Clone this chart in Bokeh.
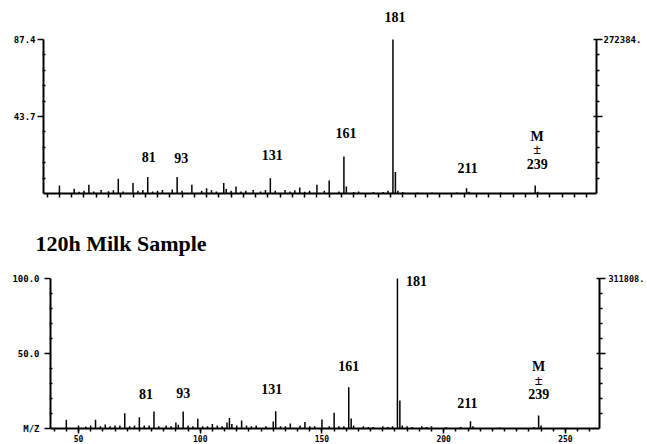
from bokeh.plotting import figure
from bokeh.models import (Range1d, FixedTicker, LinearAxis, Label, Title,
                          ColumnDataSource, CustomJSTickFormatter)
from bokeh.embed import file_html
from bokeh.resources import INLINE

# ---------------- data ----------------
MZ_RANGE = (38.5, 264.0)
X_TICKS = [50, 100, 150, 200, 250]
X_TICK_LABELS = ["50", "100", "150", "200", "250"]
X_MINOR_STEP = 5
X_AXIS_NAME = "M/Z"

# upper spectrum
top_mz = [45, 51, 53, 55, 57, 59, 62, 65, 67, 69, 71, 75, 77, 79, 81, 83, 85, 87,
          91, 93, 95, 99, 103, 105, 107, 109, 112, 113, 115, 117, 119, 121, 124,
          127, 129, 131, 133, 137, 139, 141, 143, 145, 147, 150, 153, 155, 159,
          161, 162, 165, 167, 173, 177, 179, 181, 182, 183, 185, 191, 197, 207,
          211, 212, 225, 239, 240]
top_abund = [4.6, 2.7, 1.0, 1.5, 5.0, 1.2, 2.0, 1.3, 1.8, 8.4, 1.2, 5.9, 1.5, 2.0,
             9.3, 1.2, 1.5, 2.0, 2.2, 9.3, 1.5, 5.0, 1.5, 3.0, 1.8, 1.2, 5.9, 2.5,
             1.5, 4.0, 1.2, 1.5, 2.0, 1.2, 2.0, 8.7, 1.5, 2.0, 1.2, 1.8, 3.4, 1.0,
             1.5, 5.0, 1.5, 7.4, 1.2, 21.0, 4.0, 0.8, 1.2, 0.8, 0.8, 1.5, 87.4,
             12.2, 1.5, 0.8, 0.6, 0.6, 0.6, 3.0, 1.0, 0.5, 4.5, 1.0]
top_y_max = 87.4
top_y_ticks = [43.7, 87.4]
top_y_tick_labels = ["43.7", "87.4"]
top_right_labels = ["", "272384."]
top_peak_labels = ["81", "93", "131", "161", "181", "211", "239"]

# lower spectrum
bot_title = "120h Milk Sample"
bot_mz = [45, 50, 53, 55, 57, 59, 61, 63, 65, 67, 69, 71, 73, 75, 77, 79, 81, 83,
          86, 88, 90, 91, 93, 95, 97, 99, 101, 103, 105, 107, 109, 111, 112, 113,
          115, 117, 119, 121, 123, 127, 130, 131, 133, 135, 137, 141, 143, 145,
          147, 150, 153, 155, 157, 159, 161, 162, 163, 167, 169, 171, 175, 177,
          179, 181, 182, 183, 185, 187, 191, 193, 195, 201, 207, 211, 212, 223,
          237, 239, 240]
bot_abund = [5.8, 2.0, 1.3, 2.0, 5.8, 1.5, 2.7, 1.5, 2.0, 2.0, 10.2, 1.5, 2.0, 7.5,
             2.0, 2.0, 11.3, 1.5, 2.0, 1.5, 4.0, 2.5, 11.3, 2.0, 1.5, 6.5, 1.5,
             1.5, 3.0, 2.0, 1.5, 4.0, 7.0, 3.0, 2.0, 5.3, 2.0, 1.5, 2.0, 1.5, 4.7,
             11.5, 1.5, 1.5, 3.3, 2.0, 4.4, 1.5, 1.5, 6.0, 1.5, 10.5, 1.5, 1.5,
             27.5, 6.7, 2.0, 1.5, 1.0, 1.0, 1.5, 1.0, 1.5, 100.0, 18.7, 2.0, 1.5,
             1.0, 1.5, 1.0, 1.5, 1.0, 1.0, 4.9, 1.5, 0.8, 1.0, 8.7, 2.0]
bot_y_max = 100.0
bot_y_ticks = [0.0, 50.0, 100.0]
bot_y_tick_labels = [X_AXIS_NAME, "50.0", "100.0"]
bot_right_ticks = [50.0, 100.0]
bot_right_labels = ["", "311808."]
bot_peak_labels = ["81", "93", "131", "161", "181", "211", "239"]

MOLECULAR_ION = "239"
ION_MARK = ["M", "\u00b1"]

# ---------------- style / layout ----------------
SERIF = "Liberation Serif"
MONO = "DejaVu Sans Mono"
PAGE_W = 647

top_nudge = {"81": (1, 20), "93": (4, 19), "131": (2, 23), "161": (2, 23),
             "181": (2, 23), "211": (1, 20), "239": (2, 22)}
bot_nudge = {"81": (-8, 18), "93": (0, 19), "131": (-4, 22), "161": (0, 21),
             "181": (19, -2), "211": (-3, 18), "239": (0, 21)}
top_mark_offsets = [49, 36]
bot_mark_offsets = [49, 35]


def tick_fmt(vals, labs):
    return CustomJSTickFormatter(
        args=dict(vals=list(vals), labs=list(labs)),
        code="const i = vals.indexOf(tick); return i < 0 ? '' : labs[i];")


def make_panel(mz, abund, ymax, yticks, ylabels, rticks, rlabels, peak_labels,
               nudge, mark_offs, border, frame_h, axis_h, left_standoff,
               right_standoff, right_font, x_labels):
    left, right, top, bottom = border
    frame_w = PAGE_W - left - right
    y_end = ymax * frame_h / axis_h          # room above the axis for labels
    p = figure(width=PAGE_W, height=top + frame_h + bottom, title=None,
               x_range=Range1d(*MZ_RANGE), y_range=Range1d(0, y_end),
               output_backend="svg", toolbar_location=None,
               min_border_left=left, min_border_right=right,
               min_border_top=top, min_border_bottom=bottom)
    p.grid.visible = False
    p.outline_line_color = None
    p.background_fill_color = "white"
    p.border_fill_color = "white"

    # x axis: ticks every 5 units
    xminor = list(range(40, int(MZ_RANGE[1]) + 1, X_MINOR_STEP))
    xa = p.xaxis[0]
    xa.axis_line_width = 2
    xa.minor_tick_in = 0
    xa.minor_tick_line_width = 1.5
    xa.major_tick_line_width = 1.5
    if x_labels:
        xa.ticker = FixedTicker(ticks=X_TICKS, minor_ticks=xminor)
        xa.formatter = tick_fmt(X_TICKS, X_TICK_LABELS)
        xa.major_tick_out = 5
        xa.major_tick_in = 0
        xa.minor_tick_out = 3
        xa.major_label_standoff = 1
        xa.major_label_text_font = MONO
        xa.major_label_text_font_style = "bold"
        xa.major_label_text_font_size = "8px"
        xa.major_label_text_color = "black"
    else:
        xa.ticker = FixedTicker(ticks=[], minor_ticks=xminor)
        xa.minor_tick_out = 4
        xa.major_label_standoff = 0

    # left axis
    step = ymax / 10.0
    yminor = [step * k for k in range(1, 10) if k != 5]
    ya = p.yaxis[0]
    ya.bounds = (0, ymax)
    ya.ticker = FixedTicker(ticks=yticks, minor_ticks=yminor)
    ya.formatter = tick_fmt(yticks, ylabels)
    ya.axis_line_width = 2
    ya.major_tick_out = 6
    ya.major_tick_in = 0
    ya.major_tick_line_width = 1.5
    ya.minor_tick_out = 1
    ya.minor_tick_in = 2
    ya.minor_tick_line_width = 1.5
    ya.major_label_standoff = left_standoff
    ya.major_label_text_font = MONO
    ya.major_label_text_font_style = "bold"
    ya.major_label_text_font_size = "9px"
    ya.major_label_text_color = "black"

    # right axis with full-scale count
    rax = LinearAxis(bounds=(0, ymax),
                     ticker=FixedTicker(ticks=rticks, minor_ticks=yminor),
                     formatter=tick_fmt(rticks, rlabels),
                     axis_line_width=2, major_tick_out=6, major_tick_in=3,
                     major_tick_line_width=1.5, minor_tick_out=3, minor_tick_in=0,
                     minor_tick_line_width=1.5, major_label_standoff=right_standoff,
                     major_label_text_font=MONO, major_label_text_font_style="bold",
                     major_label_text_font_size=right_font,
                     major_label_text_color="black")
    p.add_layout(rax, "right")

    # spectrum sticks
    src = ColumnDataSource(dict(mz=mz, ab=abund))
    p.segment(x0="mz", y0=0, x1="mz", y1="ab", source=src,
              line_color="black", line_width=1.5)

    # peak labels
    for t in peak_labels:
        h = abund[mz.index(int(t))]
        dx, dy = nudge[t]
        p.add_layout(Label(x=int(t), y=h, x_offset=dx, y_offset=dy, text=t,
                           text_font=SERIF, text_font_style="bold",
                           text_font_size="14px", text_align="center",
                           text_baseline="middle", text_color="black"))
        if t == MOLECULAR_ION:
            for mark, off in zip(ION_MARK, mark_offs):
                p.add_layout(Label(x=int(t), y=h, x_offset=dx, y_offset=off,
                                   text=mark, text_font=SERIF,
                                   text_font_style="bold", text_font_size="14px",
                                   text_align="center", text_baseline="middle",
                                   text_color="black"))
    return p


p1 = make_panel(top_mz, top_abund, top_y_max, top_y_ticks, top_y_tick_labels,
                top_y_ticks, top_right_labels, top_peak_labels, top_nudge,
                top_mark_offsets, border=(43, 51, 4, 7), frame_h=189, axis_h=154,
                left_standoff=2, right_standoff=1, right_font="9px",
                x_labels=False)

p2 = make_panel(bot_mz, bot_abund, bot_y_max, bot_y_ticks, bot_y_tick_labels,
                bot_right_ticks, bot_right_labels, bot_peak_labels, bot_nudge,
                bot_mark_offsets, border=(50, 45, 58, 16), frame_h=170,
                axis_h=150, left_standoff=5, right_standoff=3, right_font="8.5px",
                x_labels=True)

p2.title = Title(text=bot_title, align="left", offset=-15, standoff=6,
                 text_font=SERIF, text_font_style="bold", text_font_size="22px",
                 text_color="black")

open("out.html", "w").write(file_html([p1, p2], INLINE))
